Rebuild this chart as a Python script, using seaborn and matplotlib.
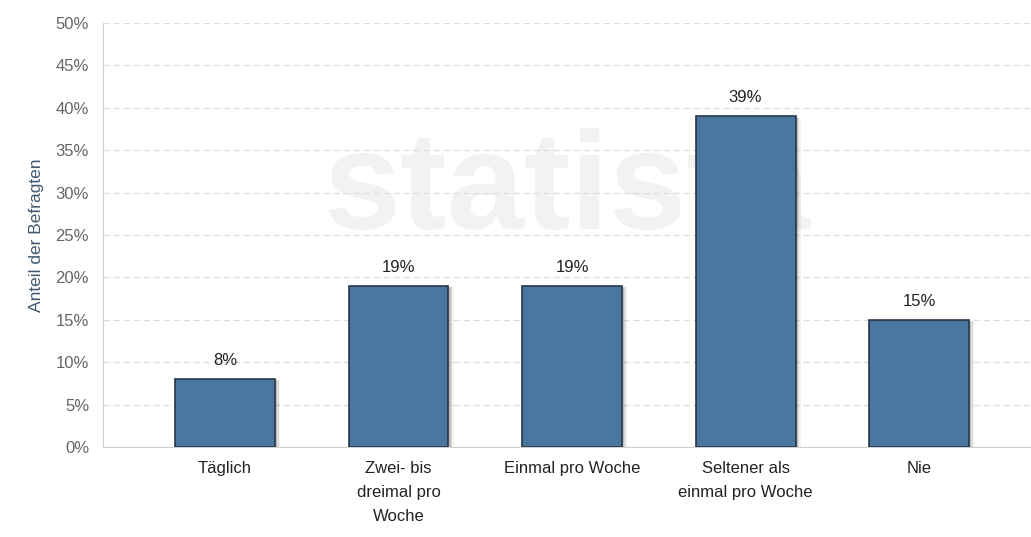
import matplotlib.pyplot as plt
import matplotlib.patches as mpatches
import matplotlib.ticker as mticker
import pandas as pd
import seaborn as sns

categories = ['Täglich', 'Zwei- bis\ndreimal pro\nWoche', 'Einmal pro Woche',
              'Seltener als\neinmal pro Woche', 'Nie']
shares = [8, 19, 19, 39, 15]
y_label = 'Anteil der Befragten'

data = pd.DataFrame({'cat': categories, 'share': shares})

sns.set_style('white')
plt.rcParams['font.family'] = ['Liberation Sans', 'DejaVu Sans']

fig = plt.figure(figsize=(10.31, 5.37), dpi=100)
ax = fig.add_axes([0.0999, 0.1676, 0.9001, 0.7894])

# watermark
ax.text(0.5, 0.6, 'statista', transform=ax.transAxes, ha='center', va='center',
        fontsize=100, fontweight='bold', color='#f2f2f2', zorder=0)

sns.barplot(data=data, x='cat', y='share', color='#4a76a0', saturation=1,
            width=0.576, edgecolor='#26374a', linewidth=1.2, ax=ax, zorder=3)

# soft shadow to the right of each bar
for p in list(ax.patches):
    for i, a in enumerate([0.14, 0.09, 0.05]):
        off = 0.012 + i * 0.009
        sh = mpatches.Rectangle((p.get_x() + off, p.get_y()), p.get_width(), p.get_height() - 0.15,
                                facecolor='#000000', alpha=a, edgecolor='none', zorder=2)
        ax.add_patch(sh)

for p, v in zip(ax.patches[:len(shares)], shares):
    ax.text(p.get_x() + p.get_width() / 2, v + 1.3, f'{v}%', ha='center', va='bottom',
            fontsize=12, color='#222222', zorder=4)

ax.set_ylim(0, 50)
ax.set_xlim(-0.703, 4.645)
ax.yaxis.set_major_locator(mticker.MultipleLocator(5))
ax.yaxis.set_major_formatter(mticker.FuncFormatter(lambda v, _: f'{v:.0f}%'))
ax.yaxis.grid(True, linestyle=(0, (5, 3)), color='#dddddd', linewidth=0.9, zorder=0)
ax.set_axisbelow(True)

for s in ['top', 'right']:
    ax.spines[s].set_visible(False)
ax.spines['left'].set_color('#d0d0d0')
ax.spines['bottom'].set_color('#d0d0d0')

ax.tick_params(axis='y', labelsize=12, labelcolor='#666666', length=0, pad=10)
ax.tick_params(axis='x', labelsize=12, labelcolor='#222222', length=0, pad=10)
for lab in ax.get_xticklabels():
    lab.set_linespacing(1.75)
ax.set_xlabel('')
ax.set_ylabel(y_label, fontsize=12.5, color='#3f5870', labelpad=8)

fig.savefig('out.png', dpi=100)
